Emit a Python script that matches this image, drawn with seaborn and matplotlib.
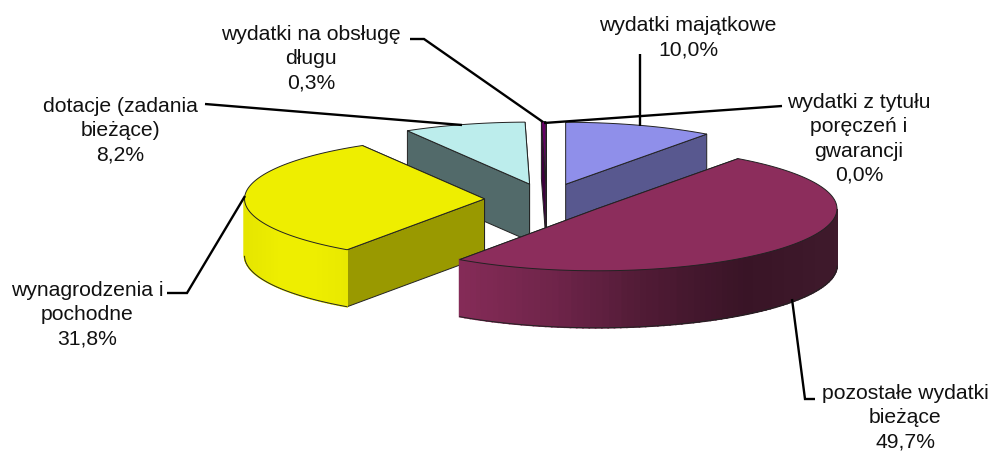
# plot.py - exploded 3D style pie of budget spending
import numpy as np
import matplotlib
matplotlib.use('Agg')
import matplotlib.pyplot as plt
from matplotlib.patches import Polygon
import seaborn as sns

categories = ['wydatki majątkowe', 'wydatki z tytułu\nporęczeń i\ngwarancji',
              'pozostałe wydatki\nbieżące', 'wynagrodzenia i\npochodne',
              'dotacje (zadania\nbieżące)', 'wydatki na obsługę\ndługu']
values = [10.0, 0.0, 49.7, 31.8, 8.2, 0.3]

top_colors = ['#8F8FEA', '#8F8FEA', '#8C2D5C', '#EEEE00', '#BCEDEC', '#660066']
side_colors = ['#58588F', '#58588F', '#6E2348', '#999900', '#526A6A', '#3D003D']
rim_colors = [['#58588F', '#58588F'], ['#58588F', '#58588F'],
              ['#842B57', '#6E2449', '#4E1A34', '#391426', '#3F1A2C'],
              ['#E6E600', '#EEEE00', '#EEEE00', '#E8E800'],
              ['#526A6A', '#526A6A'], ['#3D003D', '#3D003D']]

# label text centres, pixels
label_pos = [(688, 38), (859, 139), (905, 418), (87, 315), (120, 131), (311, 59)]
leaders = [[(640, 55), (640, 127)],
           [(782, 107), (544, 124)],
           [(815, 400), (805, 400), (792, 300)],
           [(167, 294), (187, 294), (245, 197)],
           [(205, 105), (462, 126)],
           [(410, 40), (424, 40), (543, 123)]]

# pie geometry, pixels
CX, CY = 546.5, 200.5
RX, RY = 240, 62
DEPTH = 57
EXPLODE_X, EXPLODE_Y = 62, 16
EDGE = '#222222'

sns.set_theme(style='white')
plt.rcParams['font.family'] = ['Liberation Sans', 'DejaVu Sans']

fig = plt.figure(figsize=(9.93, 4.52), dpi=100)
ax = fig.add_axes([0, 0, 1, 1])
ax.set_xlim(0, 993)
ax.set_ylim(452, 0)
ax.axis('off')


def rim_xy(cx, cy, angles):
    return cx + RX * np.sin(angles), cy - RY * np.cos(angles)


# compute wedge angles clockwise from 12 o'clock
fractions = np.array(values) / sum(values)
ends = np.cumsum(fractions) * 2 * np.pi
starts = ends - fractions * 2 * np.pi

# back to front
draw_order = [4, 5, 0, 3, 2]
for i in draw_order:
    a0, a1 = starts[i], ends[i]
    mid = (a0 + a1) / 2
    cx = CX + EXPLODE_X * np.sin(mid)
    cy = CY - EXPLODE_Y * np.cos(mid)
    ang = np.linspace(a0, a1, 120)
    x, y = rim_xy(cx, cy, ang)

    # cut faces, the one further back goes first
    for end_x, end_y in sorted([(x[0], y[0]), (x[-1], y[-1])], key=lambda p: p[1]):
        face = [(cx, cy), (end_x, end_y), (end_x, end_y + DEPTH), (cx, cy + DEPTH)]
        ax.add_patch(Polygon(face, closed=True, fc=side_colors[i], ec=EDGE, lw=0.7))

    # outer rim, only the part that faces the viewer
    front = np.where(np.cos(ang) < 0)[0]
    if len(front) > 1:
        shades = sns.blend_palette(rim_colors[i], n_colors=len(front))
        for j, k in zip(front[:-1], front[1:]):
            xn = (x[j] + x[k]) / 2
            t = (xn - x[front].min()) / (x[front].max() - x[front].min())
            col = shades[int(t * (len(shades) - 1))]
            strip = [(x[j], y[j]), (x[k], y[k]), (x[k], y[k] + DEPTH), (x[j], y[j] + DEPTH)]
            ax.add_patch(Polygon(strip, closed=True, fc=col, ec=col, lw=1.2))
        ax.plot(x[front], y[front] + DEPTH, color=EDGE, lw=0.7)

    # top face
    top = np.column_stack([np.r_[cx, x], np.r_[cy, y]])
    ax.add_patch(Polygon(top, closed=True, fc=top_colors[i], ec=EDGE, lw=0.7))

for pts in leaders:
    xs, ys = zip(*pts)
    ax.plot(xs, ys, color='black', lw=1.7, solid_capstyle='butt', solid_joinstyle='miter')

for name, val, (tx, ty) in zip(categories, values, label_pos):
    pct = f'{val:.1f}%'.replace('.', ',')
    ax.text(tx, ty, f'{name}\n{pct}', ha='center', va='center', fontsize=15.2,
            color='#111111', linespacing=1.34)

fig.savefig('out.png', dpi=100)
